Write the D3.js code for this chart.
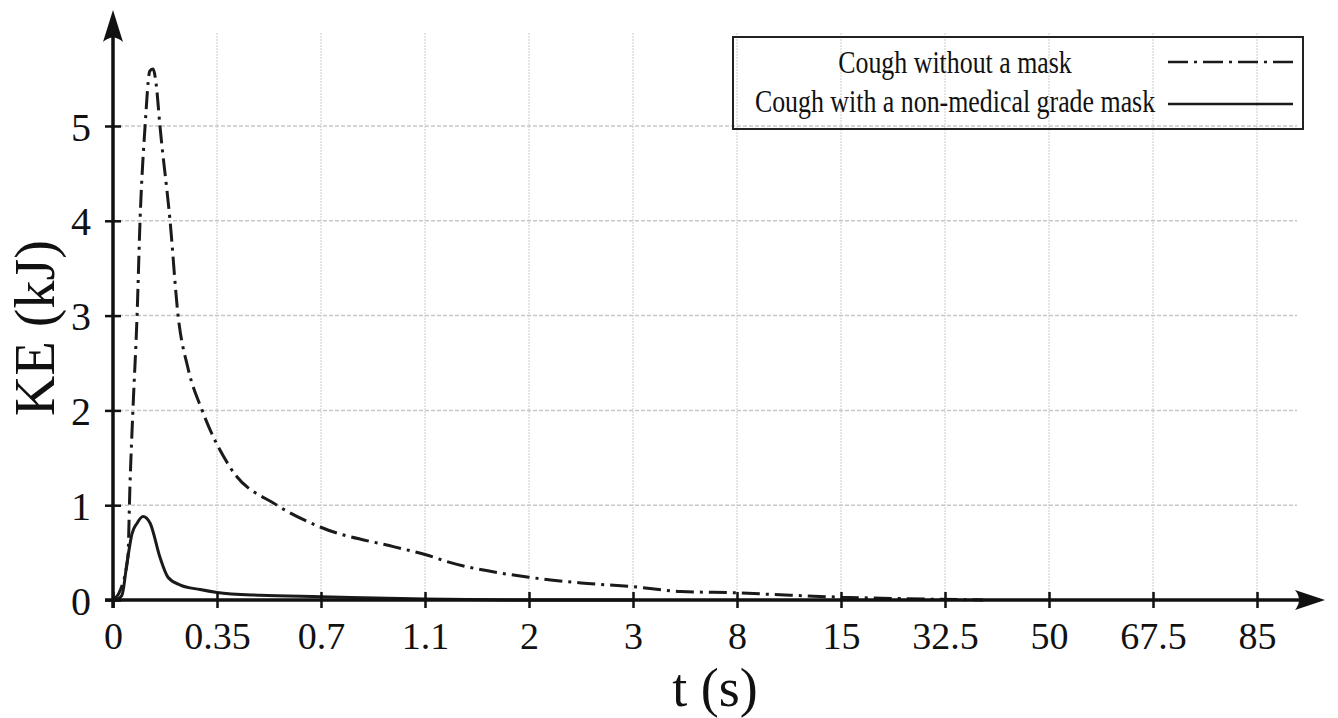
<!DOCTYPE html>
<html>
<head>
<meta charset="utf-8">
<script src="https://cdn.jsdelivr.net/npm/d3@7"></script>
<style>
  html, body { margin: 0; padding: 0; background: #fff; }
  svg { display: block; }
  text { font-family: "Liberation Serif", "Times New Roman", serif; fill: #111; }
</style>
</head>
<body>
<svg id="chart" width="1338" height="718"></svg>
<script>
// ---- data ----
const xTickValues = [0, 0.35, 0.7, 1.1, 2, 3, 8, 15, 32.5, 50, 67.5, 85];
const xTickLabels = ["0", "0.35", "0.7", "1.1", "2", "3", "8", "15", "32.5", "50", "67.5", "85"];
const yTickValues = [0, 1, 2, 3, 4, 5];
const yTickLabels = ["0", "1", "2", "3", "4", "5"];

const seriesNames = ["Cough without a mask", "Cough with a non-medical grade mask"];

// Cough without a mask (t in s, KE in kJ)
const noMaskT  = [0, 0.024, 0.050, 0.057, 0.067, 0.081, 0.091, 0.108, 0.124, 0.135, 0.145, 0.158, 0.192, 0.219, 0.252, 0.300, 0.394, 0.552, 0.697, 0.982, 1.1, 1.306, 2, 2.5, 3, 5.3, 8, 11.6, 15, 24.9, 38.9];
const noMaskKE = [0, 0.10, 0.45, 1.20, 2.00, 3.00, 4.00, 5.00, 5.58, 5.60, 5.45, 5.00, 4.00, 3.00, 2.45, 2.00, 1.40, 1.00, 0.77, 0.56, 0.48, 0.40, 0.24, 0.18, 0.14, 0.09, 0.075, 0.05, 0.03, 0.015, 0.0];

// Cough with a non-medical grade mask
const maskT  = [0, 0.007, 0.030, 0.047, 0.064, 0.081, 0.101, 0.125, 0.158, 0.185, 0.225, 0.293, 0.35, 0.495, 0.7, 1.1, 2, 3];
const maskKE = [0, 0, 0.05, 0.39, 0.70, 0.81, 0.88, 0.81, 0.45, 0.24, 0.16, 0.11, 0.08, 0.05, 0.035, 0.01, 0.0, 0.0];

// ---- layout ----
const svg = d3.select("#chart");
const x0 = 113, step = 104, yBase = 600;
const x = d3.scaleLinear()
  .domain(xTickValues)
  .range(xTickValues.map((d, i) => x0 + i * step));
const y = d3.scaleLinear().domain([0, 5]).range([yBase, 126]);

const gridTop = 33, gridRight = 1297;

// ---- grid ----
const grid = svg.append("g");
grid.selectAll("line.vg").data(xTickValues.slice(1)).enter().append("line")
  .attr("x1", d => x(d)).attr("x2", d => x(d))
  .attr("y1", gridTop).attr("y2", yBase)
  .attr("stroke", "#d6d6d6").attr("stroke-width", 1.2)
  .attr("stroke-dasharray", "2,1");
grid.selectAll("line.hg").data(yTickValues.slice(1)).enter().append("line")
  .attr("x1", x0).attr("x2", gridRight)
  .attr("y1", d => y(d)).attr("y2", d => y(d))
  .attr("stroke", "#c8c8c8").attr("stroke-width", 1.5)
  .attr("stroke-dasharray", "4,2");

// ---- curves ----
const line = d3.line().x(d => x(d[0])).y(d => y(d[1])).curve(d3.curveMonotoneX);
const noMaskData = noMaskT.map((t, i) => [t, noMaskKE[i]]);
const maskData = maskT.map((t, i) => [t, maskKE[i]]);

svg.append("path").datum(noMaskData).attr("d", line)
  .attr("fill", "none").attr("stroke", "#1a1a1a").attr("stroke-width", 3)
  .attr("stroke-dasharray", "18,6,3,6");
svg.append("path").datum(maskData).attr("d", line)
  .attr("fill", "none").attr("stroke", "#1a1a1a").attr("stroke-width", 3);

// ---- axes ----
const xAxis = d3.axisBottom(x).tickValues(xTickValues)
  .tickFormat((d, i) => xTickLabels[i]).tickSize(8).tickPadding(14);
const gx = svg.append("g").attr("transform", `translate(0,${yBase})`).call(xAxis);
gx.select(".domain").remove();
gx.selectAll(".tick line").attr("y1", -8).attr("y2", 8).attr("stroke", "#111").attr("stroke-width", 2.5);
gx.selectAll(".tick text").attr("font-size", 38).attr("font-family", "Liberation Serif")
  .attr("fill", "#111").attr("dy", "0.71em");

const yAxis = d3.axisLeft(y).tickValues(yTickValues)
  .tickFormat((d, i) => yTickLabels[i]).tickSize(8).tickPadding(14);
const gy = svg.append("g").attr("transform", `translate(${x0},0)`).call(yAxis);
gy.select(".domain").remove();
gy.selectAll(".tick line").attr("x1", -8).attr("x2", 8).attr("stroke", "#111").attr("stroke-width", 2.5);
gy.selectAll(".tick text").attr("font-size", 40).attr("font-family", "Liberation Serif")
  .attr("fill", "#111").attr("dy", "0.35em");

// axis lines with arrowheads
const xEnd = 1325, yEnd = 10;
svg.append("line").attr("x1", 105).attr("x2", xEnd - 10).attr("y1", yBase).attr("y2", yBase)
  .attr("stroke", "#111").attr("stroke-width", 3.5);
svg.append("line").attr("x1", x0).attr("x2", x0).attr("y1", yBase + 8).attr("y2", yEnd + 10)
  .attr("stroke", "#111").attr("stroke-width", 3.5);
// arrowheads
svg.append("path")
  .attr("d", `M${xEnd},${yBase} L${xEnd - 30},${yBase - 10} Q${xEnd - 22},${yBase} ${xEnd - 30},${yBase + 10} Z`)
  .attr("fill", "#111");
svg.append("path")
  .attr("d", `M${x0},${yEnd} L${x0 - 10},${yEnd + 32} Q${x0},${yEnd + 23} ${x0 + 10},${yEnd + 32} Z`)
  .attr("fill", "#111");

// axis titles
svg.append("text").attr("x", 715).attr("y", 706).attr("text-anchor", "middle")
  .attr("font-size", 54).text("t (s)");
svg.append("text").attr("transform", "translate(54,328) rotate(-90)")
  .attr("text-anchor", "middle").attr("font-size", 56).text("KE (kJ)");

// ---- legend ----
const lg = svg.append("g");
lg.append("rect").attr("x", 733).attr("y", 37).attr("width", 570).attr("height", 92)
  .attr("fill", "none").attr("stroke", "#222").attr("stroke-width", 2);
const legendRows = [
  { name: seriesNames[0], ty: 73, ly: 62, dash: "20,6,3,6" },
  { name: seriesNames[1], ty: 112, ly: 104, dash: null }
];
legendRows.forEach(r => {
  lg.append("text").attr("transform", `translate(955,${r.ty}) scale(0.835,1)`)
    .attr("text-anchor", "middle").attr("font-size", 31).text(r.name);
  const l = lg.append("line").attr("x1", 1168).attr("x2", 1293).attr("y1", r.ly).attr("y2", r.ly)
    .attr("stroke", "#1a1a1a").attr("stroke-width", 2.5);
  if (r.dash) l.attr("stroke-dasharray", r.dash);
});
</script>
</body>
</html>
